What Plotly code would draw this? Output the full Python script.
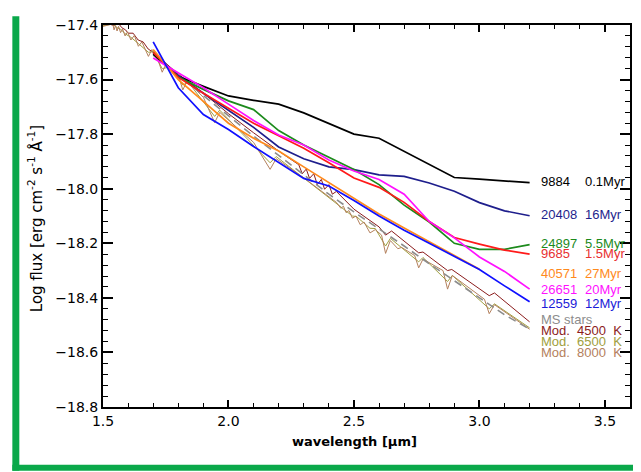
import plotly.graph_objects as go

# ---------------- data ----------------
wl = [1.7, 1.8, 1.9, 2.0, 2.1, 2.2, 2.3, 2.4, 2.5, 2.6, 2.7, 2.8, 2.9, 3.0, 3.1, 3.2]

black_9884 = [-17.507, -17.588, -17.625, -17.660, -17.676, -17.690, -17.722, -17.760,
              -17.800, -17.815, -17.862, -17.910, -17.959, -17.965, -17.971, -17.978]
navy_20408 = [-17.500, -17.586, -17.650, -17.712, -17.775, -17.847, -17.890, -17.920,
              -17.930, -17.949, -17.955, -17.979, -18.009, -18.051, -18.081, -18.099]
green_24897 = [-17.500, -17.592, -17.636, -17.678, -17.710, -17.787, -17.840, -17.885,
               -17.930, -17.985, -18.060, -18.122, -18.200, -18.222, -18.222, -18.205]
red_9685 = [-17.500, -17.592, -17.650, -17.705, -17.760, -17.806, -17.852, -17.905,
            -17.961, -17.995, -18.050, -18.120, -18.179, -18.203, -18.225, -18.240]
orange_40571 = [-17.490, -17.600, -17.680, -17.760, -17.815, -17.862, -17.920, -17.978,
                -18.035, -18.093, -18.144, -18.194, -18.245, -18.295]
magenta_26651 = [-17.521, -17.575, -17.630, -17.690, -17.750, -17.803, -17.840, -17.895,
                 -17.935, -17.966, -18.020, -18.120, -18.180, -18.250, -18.303, -18.368]
blue_12559 = [-17.462, -17.630, -17.728, -17.783, -17.845, -17.905, -17.962, -17.990,
              -18.043, -18.100, -18.152, -18.200, -18.248, -18.296, -18.356, -18.414]
grey_ms = [-17.510, -17.585, -17.660, -17.735, -17.807, -17.878, -17.948, -18.020,
           -18.085, -18.147, -18.210, -18.275, -18.338, -18.400, -18.462, -18.515]

# model spectra (wavelength, log flux)
mod8000_wl = [1.500, 1.530, 1.540, 1.544, 1.550, 1.556, 1.562, 1.570, 1.578, 1.588, 1.598,
              1.611, 1.625, 1.641, 1.655, 1.681, 1.695, 1.710, 1.736, 1.750, 1.800, 1.818,
              1.835, 1.900, 1.945, 1.965, 2.100, 2.166, 2.190, 2.300, 2.430, 2.448, 2.458,
              2.469, 2.480, 2.494, 2.508, 2.525, 2.540, 2.564, 2.585, 2.610, 2.626, 2.645,
              2.675, 2.690, 2.742, 2.758, 2.775, 2.855, 2.873, 2.892, 3.020, 3.039, 3.060, 3.200]
mod8000_fx = [-17.405, -17.398, -17.400, -17.418, -17.402, -17.422, -17.405, -17.428, -17.415,
              -17.440, -17.425, -17.455, -17.438, -17.478, -17.462, -17.515, -17.490, -17.505,
              -17.573, -17.545, -17.584, -17.638, -17.605, -17.665, -17.758, -17.720, -17.830,
              -17.929, -17.890, -17.960, -18.050, -18.072, -18.064, -18.088, -18.080, -18.108,
              -18.100, -18.132, -18.122, -18.162, -18.150, -18.170, -18.237, -18.190, -18.220,
              -18.215, -18.245, -18.290, -18.258, -18.300, -18.368, -18.318, -18.405, -18.458,
              -18.425, -18.515]
mod6500_wl = [1.500, 1.540, 1.556, 1.570, 1.588, 1.611, 1.641, 1.681, 1.700, 1.736, 1.760,
              1.818, 1.840, 1.945, 1.965, 2.166, 2.190, 2.450, 2.494, 2.510, 2.564, 2.585,
              2.626, 2.645, 2.758, 2.775, 2.873, 2.892, 3.039, 3.060, 3.200]
mod6500_fx = [-17.403, -17.396, -17.410, -17.415, -17.432, -17.445, -17.468, -17.500, -17.498,
              -17.560, -17.555, -17.620, -17.610, -17.735, -17.712, -17.905, -17.882, -18.068,
              -18.100, -18.102, -18.145, -18.146, -18.210, -18.182, -18.268, -18.252, -18.340,
              -18.318, -18.440, -18.422, -18.510]
mod4500_wl = [1.500, 1.520, 1.545, 1.560, 1.575, 1.590, 1.600, 1.620, 1.640, 1.660, 1.680,
              1.700, 1.750, 1.800, 1.900, 2.000, 2.100, 2.200, 2.280, 2.294, 2.310, 2.323,
              2.340, 2.354, 2.370, 2.383, 2.400, 2.414, 2.430, 2.500, 2.600, 2.626, 2.650,
              2.758, 2.775, 2.873, 2.890, 3.000, 3.039, 3.060, 3.200]
mod4500_fx = [-17.400, -17.395, -17.402, -17.392, -17.410, -17.418, -17.430, -17.430, -17.455,
              -17.462, -17.488, -17.500, -17.540, -17.580, -17.650, -17.725, -17.795, -17.862,
              -17.912, -17.945, -17.928, -17.962, -17.945, -17.985, -17.966, -18.002, -17.985,
              -18.020, -18.010, -18.075, -18.140, -18.170, -18.155, -18.235, -18.232, -18.300,
              -18.296, -18.368, -18.392, -18.382, -18.488]

labels_num = ["9884", "20408", "24897", "9685", "40571", "26651", "12559"]
labels_age = ["0.1Myr", "16Myr", "5.5Myr", "1.5Myr", "27Myr", "20Myr", "12Myr"]
label_y = [-17.972, -18.095, -18.200, -18.236, -18.312, -18.371, -18.419]
extra_labels = ["MS stars", "Mod.  4500  K", "Mod.  6500  K", "Mod.  8000  K"]
extra_y = [-18.480, -18.519, -18.561, -18.600]

# ---------------- styles ----------------
c_black, c_navy, c_green, c_red = "#000000", "#1e1e8c", "#1c8a1c", "#ff1a1a"
c_orange, c_magenta, c_blue, c_grey = "#ff8a1c", "#ff10ff", "#1010ff", "#8c8c8c"
c_m45, c_m65, c_m80 = "#8b1c1c", "#a0a040", "#b4805c"
label_colors = [c_black, c_navy, c_green, "#e83030", c_orange, c_magenta, "#1a1ad8"]
extra_colors = [c_grey, c_m45, c_m65, c_m80]

# page is offset by the 8px body margin: work in figure pixels
W, H = 633, 464
PL, PR, PT, PB = 95, 624, 9, 399


def px_x(px):
    return (px - PL) / (PR - PL)


def px_y(py):
    return (PB - py) / (PB - PT)


fig = go.Figure()

for xs, ys, col in [(mod4500_wl, mod4500_fx, c_m45), (mod6500_wl, mod6500_fx, c_m65),
                    (mod8000_wl, mod8000_fx, c_m80)]:
    fig.add_trace(go.Scatter(x=xs, y=ys, mode="lines", line=dict(color=col, width=1),
                             showlegend=False, hoverinfo="skip"))

fig.add_trace(go.Scatter(x=wl, y=grey_ms, mode="lines",
                         line=dict(color=c_grey, width=1.6, dash="8px,5px"),
                         showlegend=False))

series = [
    (black_9884, c_black), (navy_20408, c_navy), (green_24897, c_green),
    (red_9685, c_red), (orange_40571, c_orange), (magenta_26651, c_magenta),
    (blue_12559, c_blue),
]
for ys, col in series:
    fig.add_trace(go.Scatter(x=wl[:len(ys)], y=ys, mode="lines",
                             line=dict(color=col, width=1.7), showlegend=False))

ann_font = dict(family="Liberation Sans, Arial, sans-serif", size=13)
for n, a, yv, col in zip(labels_num, labels_age, label_y, label_colors):
    fig.add_annotation(x=3.236, y=yv, text=n, showarrow=False, xanchor="left",
                       yanchor="middle", font=dict(color=col, **ann_font),
                       xref="x", yref="y")
    fig.add_annotation(x=3.411, y=yv, text=a, showarrow=False, xanchor="left",
                       yanchor="middle", font=dict(color=col, **ann_font),
                       xref="x", yref="y")
for t, yv, col in zip(extra_labels, extra_y, extra_colors):
    fig.add_annotation(x=3.236, y=yv, text=t, showarrow=False, xanchor="left",
                       yanchor="middle", font=dict(color=col, **ann_font),
                       xref="x", yref="y")

# axis titles
fig.add_annotation(x=px_x(347), y=px_y(434), xref="paper", yref="paper",
                   xanchor="center", yanchor="middle",
                   text="<b>wavelength [\u03bcm]</b>", showarrow=False,
                   font=dict(family="DejaVu Sans", size=13, color="black"))
fig.add_annotation(x=px_x(27), y=px_y(207), xref="paper", yref="paper",
                   xanchor="center", yanchor="middle",
                   text="Log flux [erg cm<sup>-2</sup> s<sup>-1</sup> \u00c5<sup>-1</sup>]",
                   textangle=-90, showarrow=False,
                   font=dict(family="DejaVu Sans", size=15, color="black"))

# green frame
green = "#0aa84a"
fig.add_shape(type="rect", xref="paper", yref="paper",
              x0=px_x(4), x1=px_x(11), y0=px_y(H), y1=px_y(0),
              fillcolor=green, line=dict(width=0), layer="below")
fig.add_shape(type="rect", xref="paper", yref="paper",
              x0=px_x(4), x1=px_x(W), y0=px_y(H), y1=px_y(458),
              fillcolor=green, line=dict(width=0), layer="below")

tick_font = dict(family="DejaVu Sans", size=14, color="black")
fig.update_xaxes(range=[1.5, 3.6], tickvals=[1.5, 2.0, 2.5, 3.0, 3.5],
                 ticktext=["1.5", "2.0", "2.5", "3.0", "3.5"],
                 ticks="inside", ticklen=7, tickwidth=1.5, tickcolor="black",
                 minor=dict(dtick=0.1, tick0=1.5, ticks="inside", ticklen=4,
                            tickwidth=1.2, tickcolor="black", showgrid=False),
                 showline=True, linewidth=2, linecolor="black", mirror="allticks",
                 showgrid=False, zeroline=False, tickfont=tick_font)
fig.update_yaxes(range=[-18.8, -17.4],
                 tickvals=[-18.8, -18.6, -18.4, -18.2, -18.0, -17.8, -17.6, -17.4],
                 ticktext=["\u221218.8", "\u221218.6", "\u221218.4", "\u221218.2",
                           "\u221218.0", "\u221217.8", "\u221217.6", "\u221217.4"],
                 ticks="inside", ticklen=10, tickwidth=1.5, tickcolor="black",
                 minor=dict(dtick=0.04, tick0=-18.8, ticks="inside", ticklen=5,
                            tickwidth=1.2, tickcolor="black", showgrid=False),
                 showline=True, linewidth=2, linecolor="black", mirror="allticks",
                 showgrid=False, zeroline=False, tickfont=tick_font)

fig.update_layout(width=W, height=H,
                  margin=dict(l=PL, r=W - PR, t=PT, b=H - PB),
                  paper_bgcolor="white", plot_bgcolor="white", showlegend=False)

fig.write_html("out.html")
